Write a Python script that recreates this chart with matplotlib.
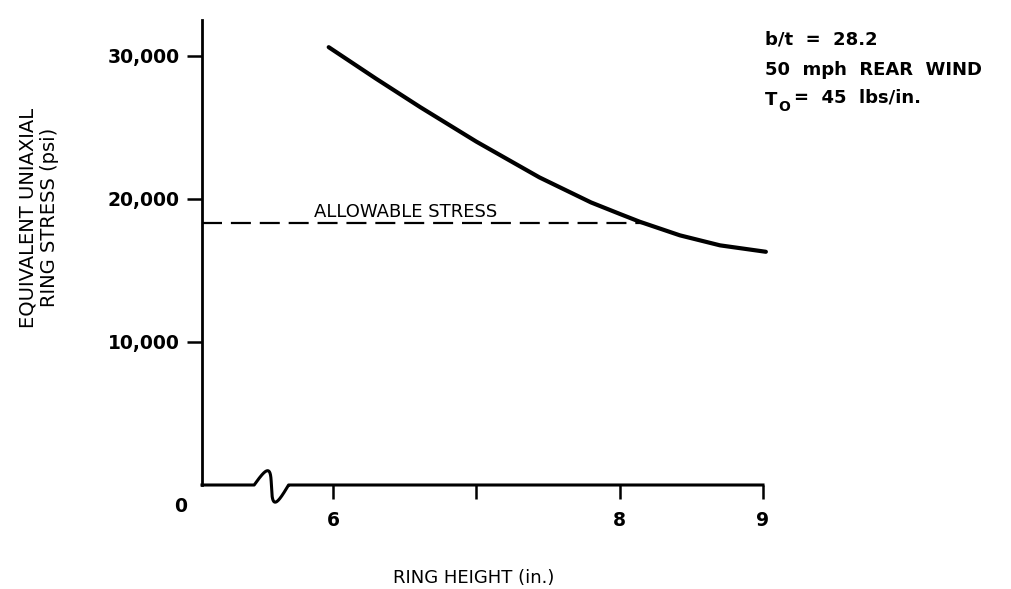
import matplotlib
matplotlib.use("Agg")
import matplotlib.pyplot as plt
import numpy as np

plt.rcParams['font.family'] = ['DejaVu Sans']

# ring height (in.) vs equivalent uniaxial ring stress (psi)
ring_height = [5.97, 6.3, 6.61, 7.0, 7.44, 7.8, 8.0, 8.14, 8.42, 8.70, 9.02]
ring_stress = [30600, 28400, 26400, 24000, 21500, 19750, 18950, 18400, 17450, 16750, 16300]

allowable = 18300
x_left = 5.086            # where the broken axis starts (the "0" corner)

yticks = [10000, 20000, 30000]
ytick_labels = ['10,000', '20,000', '30,000']
xticks = [6, 7, 8, 9]
xtick_labels = ['6', '', '8', '9']

fig = plt.figure(figsize=(10.11, 5.89), dpi=100)
ax = fig.add_axes([202 / 1011, 104 / 589, 561 / 1011, 465 / 589])
ax.set_xlim(x_left, 9.0)
ax.set_ylim(0, 32500)

for s in ['top', 'right', 'bottom']:
    ax.spines[s].set_visible(False)
ax.spines['left'].set_linewidth(2.0)

# stress curve
ax.plot(ring_height, ring_stress, color='black', lw=3.0, solid_capstyle='round',
        solid_joinstyle='round', clip_on=False)

# allowable stress line runs up to where the curve crosses it
x_cross = np.interp(allowable, ring_stress[::-1], ring_height[::-1])
ax.plot([x_left, x_cross], [allowable, allowable], color='black', lw=1.6,
        dashes=(9, 4), clip_on=False)
ax.text(6.51, 18700, 'ALLOWABLE STRESS', ha='center', va='baseline', fontsize=13)

# bottom axis with an S-shaped break near the origin
u = np.linspace(0, 1, 200)
wave = np.sin(2 * np.pi * u)
sq_x = 5.45 + 0.24 * (u + 0.14 * wave)
sq_y = np.where(wave > 0, 1000, 1200) * wave
bx = np.concatenate([[x_left], sq_x, [9.0]])
by = np.concatenate([[0], sq_y, [0]])
ax.plot(bx, by, color='black', lw=2.2, clip_on=False, solid_joinstyle='round')

ax.set_yticks(yticks)
ax.set_yticklabels(ytick_labels, fontsize=13.5, fontweight='bold')
ax.tick_params(axis='y', direction='out', length=11, width=1.8, pad=5)

ax.set_xticks(xticks)
ax.set_xticklabels(xtick_labels, fontsize=13.5, fontweight='bold')
ax.tick_params(axis='x', direction='out', length=10, width=1.8, pad=9)

ax.text(x_left - 0.147, -1470, '0', ha='center', va='center', fontsize=13.5, fontweight='bold')

ax.set_ylabel('EQUIVALENT UNIAXIAL\nRING STRESS (psi)', fontsize=14, linespacing=1.15)
ax.yaxis.set_label_coords(-0.255, 0.575)
ax.set_xlabel('RING HEIGHT (in.)', fontsize=13)
ax.xaxis.set_label_coords(0.485, -0.18)

# test conditions
fig.text(765 / 1011, 1 - 40 / 589, 'b/t  =  28.2', fontsize=13, fontweight='bold', va='center')
fig.text(765 / 1011, 1 - 70 / 589, '50  mph  REAR  WIND', fontsize=13, fontweight='bold', va='center')
fig.text(765 / 1011, 1 - 100 / 589, 'T', fontsize=13, fontweight='bold', va='center')
fig.text(778 / 1011, 1 - 107 / 589, 'O', fontsize=10, fontweight='bold', va='center')
fig.text(794 / 1011, 1 - 98 / 589, '=  45  lbs/in.', fontsize=13, fontweight='bold', va='center')

fig.savefig('out.png', dpi=100)
